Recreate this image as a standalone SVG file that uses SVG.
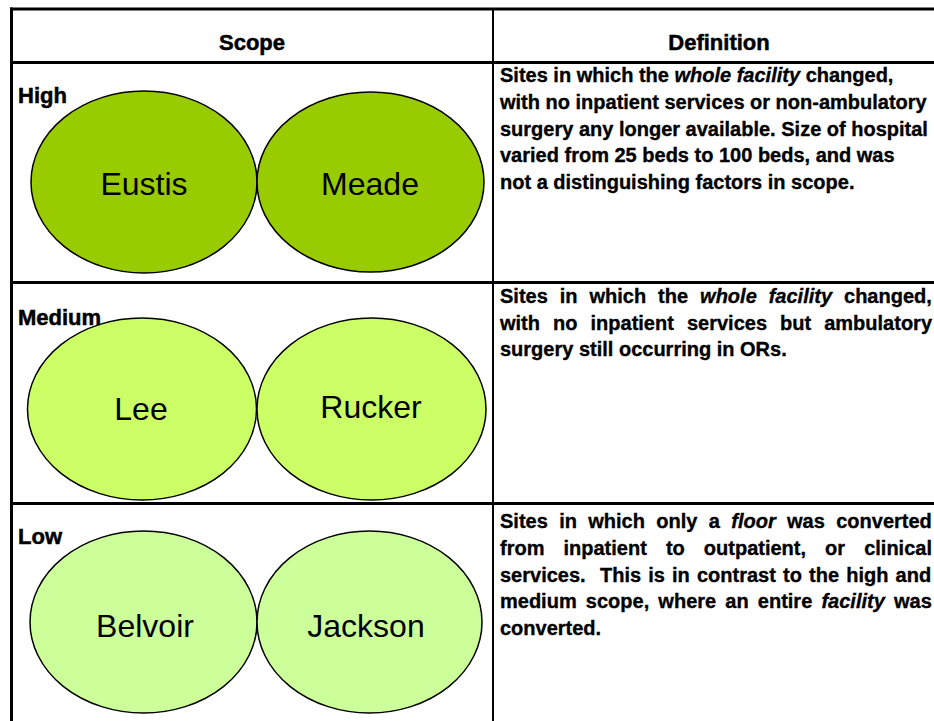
<svg xmlns="http://www.w3.org/2000/svg" width="934" height="721" viewBox="0 0 934 721">
  <style>
    .grid { stroke: #000; fill: none; }
    .hdr { font-family: "Liberation Sans", Arial, sans-serif; font-weight: bold; font-size: 22px; fill: #000; stroke: #000; stroke-width: 0.5; text-anchor: middle; }
    .lvl { font-family: "Liberation Sans", Arial, sans-serif; font-weight: bold; font-size: 22px; fill: #000; stroke: #000; stroke-width: 0.5; }
    .def { font-family: "Liberation Sans", Arial, sans-serif; font-weight: bold; font-size: 20px; fill: #000; stroke: #000; stroke-width: 0.35; }
    .it { font-style: italic; }
    .site { stroke: #000; stroke-width: 1.5; }
    .high { fill: #99cc00; }
    .med { fill: #ccff66; }
    .low { fill: #ccff99; }
    .name { font-family: "Liberation Sans", Arial, sans-serif; font-size: 32px; fill: #000; text-anchor: middle; }
  </style>

  <rect x="0" y="0" width="934" height="721" fill="#fff"/>

  <g id="table-grid" class="grid">
    <line x1="11.5" y1="7.5" x2="11.5" y2="721" stroke-width="3"/>
    <line x1="10" y1="9" x2="934" y2="9" stroke-width="3"/>
    <line x1="10" y1="62.5" x2="934" y2="62.5" stroke-width="3"/>
    <line x1="10" y1="282.5" x2="934" y2="282.5" stroke-width="3"/>
    <line x1="10" y1="503.5" x2="934" y2="503.5" stroke-width="3"/>
    <line x1="493" y1="9" x2="493" y2="721" stroke-width="2"/>
  </g>

  <g id="header">
    <text class="hdr" x="252" y="50">Scope</text>
    <text class="hdr" x="719" y="50">Definition</text>
  </g>

  <g id="connectors"></g>

  <g id="row-high">
    <g id="node-eustis">
      <ellipse class="site high" cx="144" cy="182" rx="113" ry="91"/>
      <text class="name" x="144" y="195">Eustis</text>
    </g>
    <g id="node-meade">
      <ellipse class="site high" cx="370.5" cy="182" rx="113.5" ry="90"/>
      <text class="name" x="370" y="195">Meade</text>
    </g>
    <text class="lvl" x="18" y="103">High</text>
    <g id="def-high">
      <text class="def" x="500" y="82">Sites in which the <tspan class="it">whole facility</tspan> changed,</text>
      <text class="def" x="500" y="109">with no inpatient services or non-ambulatory</text>
      <text class="def" x="500" y="136">surgery any longer available. Size of hospital</text>
      <text class="def" x="500" y="162">varied from 25 beds to 100 beds, and was</text>
      <text class="def" x="500" y="189">not a distinguishing factors in scope.</text>
    </g>
  </g>

  <g id="row-medium">
    <g id="node-lee">
      <ellipse class="site med" cx="142" cy="409" rx="114.5" ry="91"/>
      <text class="name" x="141" y="420">Lee</text>
    </g>
    <g id="node-rucker">
      <ellipse class="site med" cx="371.5" cy="409" rx="114.5" ry="91"/>
      <text class="name" x="371" y="418">Rucker</text>
    </g>
    <text class="lvl" x="18" y="325">Medium</text>
    <g id="def-medium">
      <text class="def" x="500" y="303" word-spacing="6.4">Sites in which the <tspan class="it">whole facility</tspan> changed,</text>
      <text class="def" x="500" y="330" word-spacing="7.5">with no inpatient services but ambulatory</text>
      <text class="def" x="500" y="356">surgery still occurring in ORs.</text>
    </g>
  </g>

  <g id="row-low">
    <g id="node-belvoir">
      <ellipse class="site low" cx="143.5" cy="622" rx="113.5" ry="91"/>
      <text class="name" x="145" y="637">Belvoir</text>
    </g>
    <g id="node-jackson">
      <ellipse class="site low" cx="369.5" cy="622" rx="112.5" ry="91"/>
      <text class="name" x="366" y="637">Jackson</text>
    </g>
    <text class="lvl" x="18" y="544">Low</text>
    <g id="def-low">
      <text class="def" x="500" y="528" word-spacing="5.8">Sites in which only a <tspan class="it">floor</tspan> was converted</text>
      <text class="def" x="500" y="555" word-spacing="13.5">from inpatient to outpatient, or clinical</text>
      <text class="def" x="500" y="582" word-spacing="1.6" xml:space="preserve">services.  This is in contrast to the high and</text>
      <text class="def" x="500" y="608" word-spacing="3.6">medium scope, where an entire <tspan class="it">facility</tspan> was</text>
      <text class="def" x="500" y="635">converted.</text>
    </g>
  </g>
</svg>
